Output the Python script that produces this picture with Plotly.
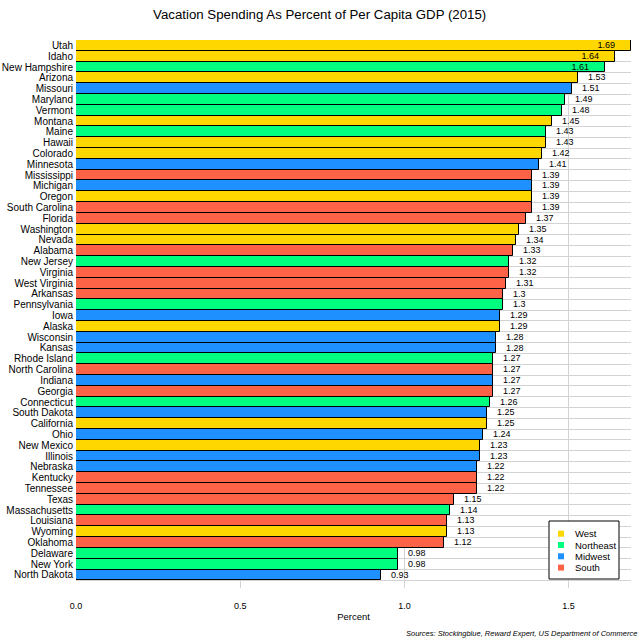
import plotly.graph_objects as go

states = ["Utah", "Idaho", "New Hampshire", "Arizona", "Missouri", "Maryland", "Vermont",
          "Montana", "Maine", "Hawaii", "Colorado", "Minnesota", "Mississippi", "Michigan",
          "Oregon", "South Carolina", "Florida", "Washington", "Nevada", "Alabama",
          "New Jersey", "Virginia", "West Virginia", "Arkansas", "Pennsylvania", "Iowa",
          "Alaska", "Wisconsin", "Kansas", "Rhode Island", "North Carolina", "Indiana",
          "Georgia", "Connecticut", "South Dakota", "California", "Ohio", "New Mexico",
          "Illinois", "Nebraska", "Kentucky", "Tennessee", "Texas", "Massachusetts",
          "Louisiana", "Wyoming", "Oklahoma", "Delaware", "New York", "North Dakota"]
values = [1.69, 1.64, 1.61, 1.53, 1.51, 1.49, 1.48, 1.45, 1.43, 1.43, 1.42, 1.41, 1.39,
          1.39, 1.39, 1.39, 1.37, 1.35, 1.34, 1.33, 1.32, 1.32, 1.31, 1.30, 1.30, 1.29,
          1.29, 1.28, 1.28, 1.27, 1.27, 1.27, 1.27, 1.26, 1.25, 1.25, 1.24, 1.23, 1.23,
          1.22, 1.22, 1.22, 1.15, 1.14, 1.13, 1.13, 1.12, 0.98, 0.98, 0.93]
regions = ["West", "West", "Northeast", "West", "Midwest", "Northeast", "Northeast",
           "West", "Northeast", "West", "West", "Midwest", "South", "Midwest",
           "West", "South", "South", "West", "West", "South",
           "Northeast", "South", "South", "South", "Northeast", "Midwest",
           "West", "Midwest", "Midwest", "Northeast", "South", "Midwest",
           "South", "Northeast", "Midwest", "West", "Midwest", "West",
           "Midwest", "Midwest", "South", "South", "South", "Northeast",
           "South", "West", "South", "Northeast", "Northeast", "Midwest"]
region_names = ["West", "Northeast", "Midwest", "South"]
region_colors = {"West": "#FFD700", "Northeast": "#00FF7F", "Midwest": "#1E90FF", "South": "#FF6347"}
x_ticks = [0.0, 0.5, 1.0, 1.5]

FONT = "Liberation Sans, Arial, sans-serif"
GHOST = "<span style='color:rgba(0,0,0,0)'>{}</span>"  # invisible spacer text
n_inside = 3  # top bars whose labels sit inside the bar end

# figure geometry
W = H = 640
L, R, T, B = 76, 9, 40, 52
PW, PH = W - L - R, H - T - B


def px(fx):
    return (fx - L) / PW


def py(fy):
    return (H - B - fy) / PH


def label(i):
    v = f"{values[i]:g}"
    return v + GHOST.format("00.") if i < n_inside else GHOST.format("0.") + v


fig = go.Figure()
for reg in region_names:
    idx = [i for i, r in enumerate(regions) if r == reg]
    fig.add_trace(go.Bar(
        x=[values[i] for i in idx],
        y=[states[i] for i in idx],
        orientation="h",
        name=reg,
        showlegend=False,
        marker=dict(color=region_colors[reg], line=dict(color="black", width=1)),
        text=[label(i) for i in idx],
        textposition=["inside" if i < n_inside else "outside" for i in idx],
        insidetextanchor="end",
        constraintext="none",
        textfont=dict(size=9, color="black", family=FONT),
        insidetextfont=dict(size=9, color="black", family=FONT),
        outsidetextfont=dict(size=9, color="black", family=FONT),
        cliponaxis=False,
        hoverinfo="x+y",
    ))

# hand-drawn legend (compact, like the reference)
shapes = [dict(type="rect", xref="paper", yref="paper",
               x0=px(549), x1=px(619), y0=py(579), y1=py(521),
               line=dict(color="black", width=1), fillcolor="white", layer="above")]
annotations = []
for k, reg in enumerate(region_names):
    cy = 533.7 + k * 11.3
    shapes.append(dict(type="rect", xref="paper", yref="paper",
                       x0=px(558), x1=px(564), y0=py(cy + 3), y1=py(cy - 3),
                       line=dict(width=0), fillcolor=region_colors[reg], layer="above"))
    annotations.append(dict(text=reg, xref="paper", yref="paper", x=px(573), y=py(cy),
                            xanchor="left", yanchor="middle", showarrow=False,
                            font=dict(size=9.5, color="black", family=FONT)))

annotations.append(dict(text="<i>Sources: Stockingblue, Reward Expert, US Department of Commerce</i>",
                        xref="paper", yref="paper", x=px(639), y=py(633),
                        xanchor="right", yanchor="middle", showarrow=False,
                        font=dict(size=7.5, color="black", family=FONT)))

order = list(reversed(states))
fig.update_layout(
    width=W, height=H,
    margin=dict(l=L, r=R, t=T, b=B, pad=0, autoexpand=False),
    paper_bgcolor="white", plot_bgcolor="white",
    font=dict(family=FONT, size=10, color="black"),
    title=dict(text="Vacation Spending As Percent of Per Capita GDP (2015)",
               x=0.4995, xanchor="center", y=1 - 14 / H, yanchor="middle",
               font=dict(size=13.25, color="black")),
    barmode="relative", bargap=0,
    showlegend=False,
    xaxis=dict(range=[0, 1.69], tickvals=x_ticks, ticktext=[f"{t:.1f}" for t in x_ticks],
               showgrid=True, gridcolor="#d3d3d3", gridwidth=1, zeroline=False,
               showline=False, ticks="", ticklabelstandoff=11, automargin=False,
               tickfont=dict(size=9),
               title=dict(text="Percent", standoff=3, font=dict(size=9.5))),
    yaxis=dict(type="category", categoryorder="array", categoryarray=order,
               range=[-1.21, 49.5], tickson="boundaries", showgrid=True,
               tickmode="linear", dtick=1, tick0=0,
               gridcolor="#d3d3d3", gridwidth=1, ticks="", showline=False,
               zeroline=False, ticklabelstandoff=2, tickfont=dict(size=10),
               automargin=False),
    shapes=shapes,
    annotations=annotations,
)

# remove the browser's default 8px body margin so the figure sits at the page origin
fig.write_html("out.html", config={"displayModeBar": False},
               post_script="document.body.style.margin='0';document.body.style.overflow='hidden';")
